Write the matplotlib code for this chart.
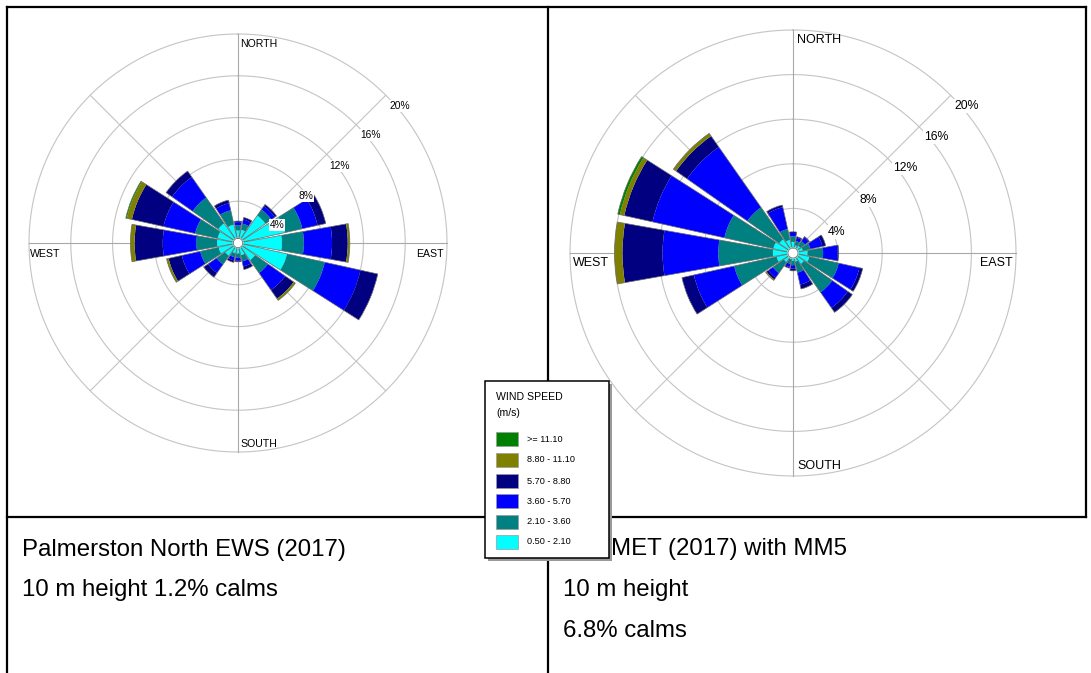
import numpy as np
import matplotlib
matplotlib.use("Agg")
import matplotlib.pyplot as plt
from matplotlib.patches import Rectangle

plt.rcParams['font.family'] = ['Liberation Sans', 'DejaVu Sans']

FIG_W, FIG_H, DPI = 1091, 673, 100

directions = ["N", "NNE", "NE", "ENE", "E", "ESE", "SE", "SSE",
              "S", "SSW", "SW", "WSW", "W", "WNW", "NW", "NNW"]

# speed classes, slowest first (legend lists them fastest first)
speed_labels = ["0.50 - 2.10", "2.10 - 3.60", "3.60 - 5.70",
                "5.70 - 8.80", "8.80 - 11.10", ">= 11.10"]
speed_colors = ["#00ffff", "#008080", "#0000ff", "#000080", "#808000", "#008000"]

# Palmerston North EWS (2017): frequency (%) per direction and speed class
ews_0_5 = [1.2, 1.3, 3.2, 4.6, 4.2, 4.8, 2.0, 1.2, 1.0, 1.0, 1.5, 1.9, 2.0, 2.0, 2.3, 1.8]
ews_2_1 = [0.5, 0.6, 0.7, 1.7, 2.1, 3.7, 1.5, 0.6, 0.4, 0.4, 1.0, 1.8, 2.0, 2.2, 3.0, 1.4]
ews_3_6 = [0.3, 0.4, 0.4, 1.5, 2.7, 3.5, 2.0, 0.5, 0.3, 0.3, 1.0, 1.8, 3.2, 3.1, 2.4, 0.7]
ews_5_7 = [0.1, 0.2, 0.2, 0.8, 1.5, 1.7, 1.0, 0.3, 0.1, 0.2, 0.5, 1.3, 2.7, 3.1, 0.7, 0.3]
ews_8_8 = [0.0, 0.0, 0.0, 0.0, 0.2, 0.0, 0.2, 0.0, 0.0, 0.0, 0.0, 0.2, 0.4, 0.5, 0.0, 0.0]
ews_11_1 = [0.0, 0.0, 0.0, 0.0, 0.0, 0.0, 0.0, 0.0, 0.0, 0.0, 0.0, 0.0, 0.0, 0.1, 0.0, 0.0]

# Model run (2017) with MM5: frequency (%) per direction and speed class
mm5_0_5 = [1.0, 0.7, 0.8, 0.9, 1.3, 1.5, 1.2, 0.8, 0.7, 0.6, 1.0, 1.5, 1.8, 1.8, 1.5, 1.2]
mm5_2_1 = [0.5, 0.4, 0.5, 0.7, 1.4, 2.7, 3.1, 1.0, 0.4, 0.4, 1.2, 3.9, 4.9, 4.5, 3.5, 1.0]
mm5_3_6 = [0.3, 0.3, 0.4, 1.1, 1.3, 1.9, 1.7, 1.1, 0.3, 0.3, 0.5, 3.7, 5.0, 6.6, 6.6, 2.0]
mm5_5_7 = [0.1, 0.1, 0.1, 0.3, 0.1, 0.3, 0.5, 0.4, 0.2, 0.1, 0.2, 1.1, 3.6, 2.6, 1.2, 0.2]
mm5_8_8 = [0.0, 0.0, 0.0, 0.0, 0.0, 0.0, 0.0, 0.0, 0.0, 0.0, 0.1, 0.0, 0.7, 0.4, 0.3, 0.0]
mm5_11_1 = [0.0, 0.0, 0.0, 0.0, 0.0, 0.0, 0.0, 0.0, 0.0, 0.0, 0.0, 0.0, 0.0, 0.2, 0.0, 0.0]

ring_values = [4, 8, 12, 16, 20]
ring_labels = ["4%", "8%", "12%", "16%", "20%"]

ews_caption = ["Palmerston North EWS (2017)", "10 m height 1.2% calms"]
mm5_caption = ["MET (2017) with MM5", "10 m height", "6.8% calms"]

fig = plt.figure(figsize=(FIG_W / DPI, FIG_H / DPI), dpi=DPI)


def px_axes(zorder):
    a = fig.add_axes([0, 0, 1, 1], zorder=zorder)
    a.set_xlim(0, FIG_W)
    a.set_ylim(FIG_H, 0)
    a.set_axis_off()
    a.patch.set_alpha(0)
    return a


ax_bg = px_axes(0)
ax_top = px_axes(10)

# table frame
line_kw = dict(color="black", lw=1.6, solid_capstyle="projecting")
ax_bg.plot([7, 1086], [7, 7], **line_kw)
ax_bg.plot([7, 7], [7, 673], **line_kw)
ax_bg.plot([1086, 1086], [7, 517], **line_kw)
ax_bg.plot([548, 548], [7, 673], **line_kw)
ax_bg.plot([7, 1086], [517, 517], **line_kw)


def polar_axes(cx, cy, radius):
    rect = [(cx - radius) / FIG_W, (FIG_H - cy - radius) / FIG_H,
            2 * radius / FIG_W, 2 * radius / FIG_H]
    a = fig.add_axes(rect, projection="polar", zorder=2)
    a.set_theta_zero_location("N")
    a.set_theta_direction(-1)
    a.set_ylim(0, 20)
    a.set_axis_off()
    a.patch.set_alpha(0)
    return a


def draw_rose(a, classes):
    t = np.linspace(0, 2 * np.pi, 361)
    for r in ring_values:
        a.plot(t, np.full_like(t, r), color="#c4c4c4", lw=0.8, zorder=1, clip_on=False)
    for ang in range(0, 360, 45):
        col = "#a8a8a8" if ang % 90 == 0 else "#c4c4c4"
        a.plot([np.radians(ang)] * 2, [0, 20], color=col, lw=0.8, zorder=1, clip_on=False)
    theta = np.radians(np.arange(len(directions)) * 22.5)
    width = np.radians(20)
    bottom = np.zeros(len(directions))
    for vals, col in zip(classes, speed_colors):
        vals = np.asarray(vals, dtype=float)
        a.bar(theta, vals, width=width, bottom=bottom, color=col,
              edgecolor="none", linewidth=0, zorder=3)
        bottom = bottom + vals
    a.bar(theta, bottom, width=width, bottom=0, facecolor="none",
          edgecolor="#6a6a6a", linewidth=0.5, zorder=4)
    a.fill(t, np.full_like(t, 0.45), color="white", zorder=5)
    a.plot(t, np.full_like(t, 0.45), color="#707070", lw=0.6, zorder=6)


ax_l = polar_axes(238, 243, 209)
draw_rose(ax_l, [ews_0_5, ews_2_1, ews_3_6, ews_5_7, ews_8_8, ews_11_1])
ax_r = polar_axes(793, 253, 223)
draw_rose(ax_r, [mm5_0_5, mm5_2_1, mm5_3_6, mm5_5_7, mm5_8_8, mm5_11_1])

# compass and ring labels
lab_l = 7.6
ax_top.text(240, 44, "NORTH", fontsize=lab_l, ha="left", va="center")
ax_top.text(30, 254, "WEST", fontsize=lab_l, ha="left", va="center")
ax_top.text(444, 254, "EAST", fontsize=lab_l, ha="right", va="center")
ax_top.text(240, 444, "SOUTH", fontsize=lab_l, ha="left", va="center")
for (x, y), s in zip([(277, 225), (306, 196), (340, 166), (371, 135), (400, 106)], ring_labels):
    ax_top.text(x, y, s, fontsize=7.4, ha="center", va="center",
                bbox=dict(facecolor="white", edgecolor="none", pad=0.6))

lab_r = 9.0
ax_top.text(797, 40, "NORTH", fontsize=lab_r, ha="left", va="center")
ax_top.text(573, 263, "WEST", fontsize=lab_r, ha="left", va="center")
ax_top.text(1013, 263, "EAST", fontsize=lab_r, ha="right", va="center")
ax_top.text(797, 466, "SOUTH", fontsize=lab_r, ha="left", va="center")
for (x, y), s in zip([(837, 232), (868, 200), (905, 168), (936, 137), (967, 106)], ring_labels):
    ax_top.text(x, y, s, fontsize=8.8, ha="center", va="center",
                bbox=dict(facecolor="white", edgecolor="none", pad=0.6))

# captions
cap_fs = 17.3
for y, s in zip([550, 590], ews_caption):
    ax_bg.text(22, y, s, fontsize=cap_fs, ha="left", va="center")
ax_bg.text(611, 549, mm5_caption[0], fontsize=cap_fs, ha="left", va="center")
for y, s in zip([590, 631], mm5_caption[1:]):
    ax_bg.text(563, y, s, fontsize=cap_fs, ha="left", va="center")

# legend
lx0, ly0, lx1, ly1 = 485, 381, 609, 558
ax_top.add_patch(Rectangle((lx0 + 3, ly0 + 3), lx1 - lx0, ly1 - ly0,
                           facecolor="#9a9a9a", edgecolor="none", zorder=1))
ax_top.add_patch(Rectangle((lx0, ly0), lx1 - lx0, ly1 - ly0,
                           facecolor="white", edgecolor="black", lw=1.1, zorder=2))
ax_top.text(496, 397, "WIND SPEED", fontsize=7.6, ha="left", va="center", zorder=3)
ax_top.text(496, 413, "(m/s)", fontsize=7.6, ha="left", va="center", zorder=3)
item_y = [439, 460, 481, 501, 522, 542]
for y, lab, col in zip(item_y, speed_labels[::-1], speed_colors[::-1]):
    ax_top.add_patch(Rectangle((496, y - 7), 22, 14, facecolor=col,
                               edgecolor="#9a9a9a", lw=0.5, zorder=3))
    ax_top.text(527, y, lab, fontsize=6.6, ha="left", va="center", zorder=3)

fig.savefig("out.png", dpi=DPI)
